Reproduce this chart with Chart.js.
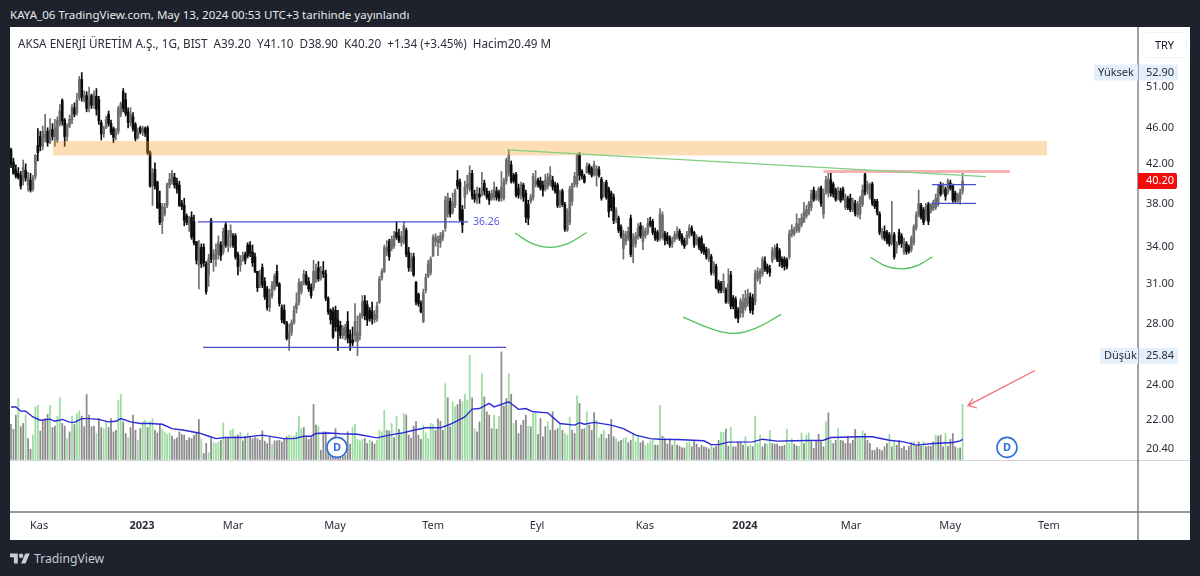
<!DOCTYPE html>
<html>
<head>
<meta charset="utf-8">
<script src="https://cdn.jsdelivr.net/npm/chart.js@4"></script>
<style>
  html, body { margin:0; padding:0; background:#1e222d; width:1200px; height:576px; overflow:hidden; font-family:"Noto Sans", sans-serif; }
  #panel { position:absolute; left:10px; top:27px; width:1180px; height:513px; background:#fff; }
  #head { position:absolute; left:10px; top:6px; color:#e8e8ea; font-size:11.55px; line-height:18px; white-space:nowrap; }
  #legend { position:absolute; left:18px; top:34px; color:#2a2e39; font-size:11.7px; line-height:18px; white-space:pre; }
  #cur { position:absolute; left:1142px; top:32px; width:43px; height:24px; border:1px solid #f0f3fa; border-radius:4px; color:#131722; font-size:11px; line-height:24px; text-align:center; }
  #logo { position:absolute; left:10px; top:551px; }
  #brand { position:absolute; left:34px; top:549px; color:#c9ccd6; font-size:12.2px; line-height:20px; }
</style>
</head>
<body>
<div id="head"></div>
<div id="panel"><canvas id="Chart" width="1180" height="513"></canvas></div>
<div id="legend"></div>
<div id="cur"></div>
<svg id="logo" width="20" height="16" viewBox="0 0 36 28"><path fill="#c9ccd6" d="M14 22H7V11H0V4h14v18zM28 22h-8l7.5-18h8L28 22z"/><circle fill="#c9ccd6" cx="20" cy="8" r="4"/></svg>
<div id="brand">TradingView</div>
<script>
var headText = "KAYA_06 TradingView.com, May 13, 2024 00:53 UTC+3 tarihinde yayınlandı";
var legendText = "AKSA ENERJİ ÜRETİM A.Ş., 1G, BIST  A39.20  Y41.10  D38.90  K40.20  +1.34 (+3.45%)  Hacim20.49 M";
var currency = "TRY";

var priceTicks = [51, 46, 42, 38, 34, 31, 28, 24, 22, 20.40];
var monthTicks = [11.5, 53.7, 91, 132.8, 173, 215.6, 259.8, 300.8, 344.3, 384.9, 425.4];
var monthLabels = ["Kas", "2023", "Mar", "May", "Tem", "Eyl", "Kas", "2024", "Mar", "May", "Tem"];
var highPrice = 52.90, lowPrice = 25.84, lastPrice = 40.20;

var opens = [
43.5,42.2,41.3,41.0,40.8,40.2,41.3,39.8,40.3,39.4,
40.7,44.0,45.0,43.9,44.9,45.6,44.4,45.8,45.0,44.6,
46.5,49.3,46.9,45.0,46.2,46.9,48.4,47.8,49.6,52.0,
49.4,49.9,48.4,49.9,48.7,49.8,49.4,46.6,45.3,46.0,
47.6,46.5,45.9,45.2,45.6,47.6,50.4,49.4,47.9,46.6,
47.3,46.4,44.9,46.0,45.5,45.9,46.0,43.2,39.7,41.4,
40.1,38.0,36.3,37.0,37.8,39.8,40.2,40.6,40.0,39.8,
38.0,37.8,36.8,36.0,36.7,36.3,34.5,32.5,34.0,34.0,
32.6,31.7,36.4,33.0,33.0,33.4,34.2,33.6,36.0,34.1,
35.0,35.0,35.0,33.4,32.5,33.0,33.4,34.2,34.2,33.6,
33.2,32.0,30.9,32.3,31.2,30.6,29.2,30.1,30.6,32.0,
31.0,29.2,29.0,28.1,27.0,27.4,28.1,29.1,29.6,30.4,
31.1,31.7,31.2,30.7,30.7,31.3,32.3,31.5,32.0,31.8,
29.9,29.0,28.9,29.0,28.3,27.9,27.2,27.2,28.2,27.3,
26.9,27.2,26.8,27.2,28.6,29.7,29.4,29.0,28.9,28.3,
28.4,29.6,31.5,32.0,33.6,34.5,33.9,34.1,35.3,35.0,
34.4,34.5,35.5,33.6,32.3,33.2,31.1,30.2,29.5,28.2,
30.5,31.6,31.9,33.3,34.5,34.4,34.4,34.9,35.7,37.0,
38.2,37.2,37.8,40.3,40.1,37.4,38.6,39.6,39.4,41.0,
38.9,38.3,38.9,38.9,40.0,39.2,38.9,38.5,38.6,39.2,
39.0,38.5,38.5,40.2,41.0,41.9,40.8,40.9,39.5,38.8,
39.8,39.0,37.9,38.2,38.6,39.9,40.3,40.2,39.8,39.4,
39.7,39.9,40.3,39.8,39.8,37.9,39.2,37.9,35.5,36.2,
38.2,39.9,39.9,43.0,41.2,40.7,41.1,41.8,41.5,40.9,
40.8,41.4,40.4,38.8,40.1,39.4,39.0,38.6,36.6,36.6,
35.8,33.9,34.5,34.8,36.6,34.1,34.3,34.9,35.9,34.5,
35.0,35.3,36.3,36.3,35.4,35.3,34.8,34.9,35.2,35.0,
34.8,34.3,34.7,34.9,35.4,35.0,34.6,34.3,35.0,35.7,
35.3,34.4,34.7,34.8,34.1,33.8,33.0,33.2,31.9,32.4,
31.1,31.0,30.5,30.5,29.7,31.7,29.9,29.8,29.0,28.8,
28.8,29.2,29.5,30.0,29.9,29.6,31.4,31.5,31.8,32.8,
32.4,32.2,32.9,33.2,34.0,33.7,33.0,33.0,32.9,33.2,
35.1,35.2,35.5,35.5,36.0,36.3,36.8,37.1,37.6,39.3,
38.5,38.4,39.5,37.0,39.1,39.0,40.3,39.9,39.3,38.7,
39.2,39.4,37.6,38.4,38.5,37.4,38.0,36.9,37.0,37.9,
40.9,39.3,38.6,39.9,38.2,38.2,37.0,34.9,35.4,35.3,
35.1,34.4,35.1,34.0,35.3,35.0,33.6,34.3,34.0,33.8,
34.4,35.7,36.9,37.8,37.4,36.7,37.9,37.3,37.5,37.6,
37.9,39.8,39.1,39.4,39.1,40.0,39.7,39.0,38.2,38.4,39.2];

var highs = [
43.7,42.6,41.9,41.6,41.2,42.4,42.0,41.1,41.0,40.8,
43.0,45.9,45.6,46.2,47.6,46.0,47.1,46.5,47.0,47.3,
48.8,49.5,47.1,46.5,47.5,48.8,49.0,50.2,52.4,52.9,
50.5,50.4,51.0,50.1,50.5,50.8,49.8,46.9,46.2,47.4,
48.0,46.9,46.1,45.9,48.6,49.1,50.8,50.2,48.4,48.4,
47.8,46.6,46.0,46.2,46.2,46.1,46.2,43.4,41.5,42.1,
40.2,39.2,38.0,38.0,40.0,41.0,41.3,41.0,40.5,40.2,
38.3,38.5,37.0,36.8,37.2,36.9,34.5,34.6,34.3,34.3,
32.8,33.4,36.6,33.8,34.3,35.0,34.5,35.7,36.2,35.5,
36.0,35.2,35.2,33.6,33.3,33.6,33.6,34.4,34.5,34.2,
33.5,32.0,32.1,32.6,31.5,30.8,30.6,31.2,31.8,32.5,
31.1,29.4,29.4,28.2,28.0,28.3,29.3,30.3,31.4,31.2,
32.1,32.0,31.5,31.0,32.9,32.6,32.8,32.4,32.8,32.1,
30.0,29.1,29.2,29.3,29.0,28.2,27.9,28.0,28.9,27.6,
27.8,29.5,28.6,28.8,30.1,30.1,29.7,29.2,29.6,29.0,
29.6,31.6,32.2,34.2,34.6,34.7,35.0,35.4,36.3,35.6,
35.4,36.3,35.7,34.0,33.5,33.5,31.2,30.3,29.7,30.6,
31.8,32.9,33.2,35.1,35.2,35.0,35.3,35.5,38.7,39.0,
38.5,39.0,39.4,41.3,40.4,37.8,40.2,40.8,41.8,41.3,
39.3,39.6,39.5,41.1,40.3,39.5,39.2,39.3,40.1,39.6,
39.3,41.2,40.5,42.6,43.5,42.3,41.0,41.1,39.9,40.1,
40.0,39.3,38.3,38.9,41.0,41.3,40.5,40.6,40.2,40.9,
41.0,41.7,40.7,40.1,40.0,39.3,39.4,38.1,37.5,39.7,
40.0,41.1,43.1,43.2,41.4,40.9,42.1,42.0,41.7,42.3,
41.8,41.7,40.6,40.1,40.3,39.6,39.2,38.9,37.6,36.8,
36.0,35.5,35.4,35.8,36.9,35.2,35.3,36.1,36.2,35.9,
35.7,36.6,36.7,36.5,35.7,35.5,37.5,37.2,35.4,35.3,
35.0,34.9,35.4,35.8,35.6,35.2,34.8,35.4,36.0,35.9,
35.4,35.1,34.9,35.0,34.3,34.0,33.9,33.4,32.8,32.6,
31.3,31.2,31.8,30.7,32.2,32.0,30.1,30.0,29.2,29.9,
30.2,30.5,30.6,30.3,30.2,32.1,32.3,32.2,33.2,33.2,
32.6,32.5,34.0,34.2,34.3,33.9,33.2,33.2,33.1,35.5,
36.0,35.8,37.0,36.6,37.0,38.1,37.8,38.2,39.3,39.6,
39.2,39.6,39.7,39.4,40.7,41.1,41.2,40.1,39.5,39.6,
39.5,39.6,38.9,38.7,38.9,38.5,38.3,38.2,38.7,39.8,
41.2,40.2,40.0,40.1,38.4,38.4,37.2,35.7,35.9,35.5,
35.3,38.2,35.3,34.5,35.6,35.2,34.8,34.5,34.2,35.0,
36.0,37.2,39.3,38.0,37.6,38.0,38.1,38.0,38.3,38.9,
39.8,40.1,40.0,39.6,40.4,40.3,39.9,39.2,39.0,39.4,41.1];

var lows = [
41.6,40.9,40.5,40.4,39.4,39.8,40.2,39.2,39.1,39.2,
40.4,42.3,43.4,43.5,44.4,43.9,44.2,44.6,43.9,44.3,
46.2,46.3,43.9,44.5,46.0,46.5,47.3,47.5,49.3,49.2,
49.1,47.9,47.9,48.3,48.3,47.5,46.4,44.6,44.9,45.9,
46.2,45.2,44.3,44.6,45.3,47.3,47.9,47.4,46.0,46.2,
45.6,44.5,44.7,45.3,45.1,45.0,43.0,39.6,37.8,39.4,
37.5,36.0,35.2,36.8,37.6,39.5,39.9,39.5,39.0,37.7,
37.4,35.9,36.0,35.4,34.7,34.2,32.6,30.6,32.3,32.4,
30.2,30.8,32.7,32.0,32.4,33.0,32.9,33.4,34.0,33.6,
34.0,34.0,33.0,31.7,32.0,32.8,32.6,33.1,33.2,32.4,
31.9,30.4,30.7,30.7,29.8,29.0,28.9,29.9,30.5,30.8,
29.3,28.1,28.0,26.9,26.2,27.2,28.0,28.8,29.4,30.2,
30.9,30.9,30.4,29.9,30.5,31.1,31.2,31.3,31.5,29.7,
28.7,28.0,27.0,27.5,26.2,27.0,27.0,26.9,26.7,26.2,
26.5,26.8,25.84,26.9,28.4,28.3,27.9,28.2,28.0,28.1,
28.2,29.5,31.3,31.9,33.3,32.9,33.7,33.9,34.7,34.4,
34.1,34.3,33.2,32.0,32.0,31.6,29.4,29.3,28.8,28.1,
30.3,31.5,31.7,33.2,34.1,33.3,34.0,34.6,35.4,36.7,
36.7,37.0,37.6,39.4,36.3,35.3,37.5,38.9,39.2,38.4,
38.1,38.0,38.0,38.7,38.8,38.4,37.9,38.3,38.3,38.3,
38.2,38.2,38.3,39.9,40.7,40.0,40.0,38.6,38.5,38.4,
38.2,36.2,36.0,38.0,38.3,39.6,39.6,39.3,38.7,39.2,
39.4,39.7,39.3,39.0,37.6,37.6,37.7,35.4,35.4,36.0,
37.8,39.6,39.6,40.3,40.4,40.0,41.0,40.9,40.6,40.7,
39.7,40.6,38.3,38.6,38.4,36.7,37.3,36.1,36.2,35.3,
34.8,33.0,34.2,34.6,33.2,32.7,34.0,34.7,34.8,33.8,
34.8,35.1,35.8,35.1,34.6,34.5,34.6,34.7,34.2,34.3,
34.0,34.0,34.5,34.7,34.6,34.2,33.9,34.2,34.8,35.0,
34.0,34.2,33.8,33.5,33.4,33.0,32.8,31.7,31.7,30.6,
30.3,30.3,30.3,29.5,29.5,29.1,29.1,28.4,28.1,28.5,
28.5,29.0,29.3,28.8,28.7,29.4,31.2,31.0,31.6,32.0,
31.8,31.6,32.7,33.0,32.8,32.4,32.3,32.1,32.2,33.0,
34.9,35.0,35.3,35.3,35.8,36.2,36.6,36.9,37.3,38.2,
38.3,38.2,37.7,36.6,38.9,38.6,38.7,38.6,38.2,38.3,
38.1,38.3,37.4,37.4,37.2,37.2,36.8,36.7,36.5,37.7,
38.8,38.9,38.4,37.8,37.5,36.9,35.1,34.7,34.6,34.3,
34.1,34.2,33.0,33.5,34.2,34.0,33.4,33.4,33.5,33.6,
34.2,35.5,36.7,36.5,36.0,36.4,36.0,37.1,37.3,37.4,
37.7,38.7,38.9,38.3,38.9,39.3,38.1,38.1,38.0,37.9,38.9];

var closes = [
41.9,41.0,40.7,40.6,39.7,41.6,40.5,40.6,39.3,40.6,
42.9,43.2,43.9,45.6,45.2,44.3,45.8,45.0,46.0,46.9,
48.0,46.8,45.0,46.2,47.0,48.4,47.6,49.3,52.0,49.7,
50.0,48.3,49.4,48.7,50.0,48.2,46.8,45.3,45.9,47.0,
46.5,45.5,44.9,45.5,48.3,48.9,48.3,47.7,46.6,47.6,
45.9,44.8,45.5,45.5,45.9,45.4,43.2,39.7,41.0,39.7,
37.6,36.2,37.7,37.6,39.9,40.4,41.0,39.8,39.4,37.8,
37.7,36.4,36.2,36.6,34.9,34.4,32.9,34.0,32.6,32.7,
30.4,33.0,33.0,33.4,33.8,34.4,33.3,35.4,34.2,35.0,
35.5,34.2,33.2,32.4,33.0,33.3,32.9,33.3,33.5,32.7,
32.0,30.7,31.7,30.9,30.0,29.2,30.2,30.9,31.6,31.0,
29.5,28.3,28.1,27.0,27.4,28.1,29.0,29.5,31.1,31.1,
31.8,31.0,30.6,30.1,32.0,32.1,31.4,32.0,31.8,29.9,
28.9,28.3,27.1,27.8,27.5,27.2,27.7,27.8,27.0,26.7,
26.7,28.2,27.4,28.6,29.6,28.6,28.3,28.4,28.4,28.7,
29.3,31.4,32.0,34.0,34.0,33.2,34.7,35.0,34.9,34.6,
34.9,35.9,33.4,32.3,33.0,31.7,29.6,29.5,28.9,30.3,
31.5,32.6,33.0,34.9,34.9,34.7,35.0,35.3,38.3,38.6,
37.0,38.0,39.2,39.7,36.5,36.0,39.6,39.9,41.0,38.7,
38.4,39.0,38.6,39.5,39.2,38.6,38.3,39.0,39.4,38.6,
38.5,39.6,40.2,42.4,42.9,40.2,40.2,38.8,38.8,39.9,
38.6,36.7,36.6,38.6,40.7,40.2,39.8,39.5,39.3,40.3,
40.6,40.8,39.6,39.2,37.8,39.0,37.9,35.6,37.3,39.4,
39.9,40.7,42.9,40.8,40.7,40.1,41.7,41.1,40.8,41.9,
41.5,40.8,38.5,39.9,38.6,37.2,37.6,36.4,37.3,35.5,
35.0,35.2,35.0,35.4,33.4,34.8,35.0,35.7,35.0,35.6,
35.4,36.1,36.0,35.3,34.8,34.7,37.0,36.9,34.6,34.6,
34.2,34.6,35.1,35.2,34.8,34.4,34.1,35.1,35.7,35.2,
34.2,34.9,34.0,33.7,33.6,33.2,33.7,31.9,32.6,30.7,
30.5,30.5,31.2,29.6,31.0,29.3,29.3,28.5,28.4,29.7,
29.6,29.9,30.2,29.0,29.0,31.8,32.0,32.0,33.0,32.2,
32.0,31.9,33.7,33.9,33.0,32.8,32.5,32.4,32.4,35.2,
35.6,35.5,36.1,36.0,36.6,37.2,37.4,38.0,38.9,38.4,
38.9,39.4,38.0,39.0,40.3,40.4,39.0,38.9,38.4,39.2,
38.3,38.6,38.6,37.6,37.4,38.2,37.0,37.9,38.5,39.3,
39.1,39.9,39.8,38.0,37.7,37.1,35.3,35.4,34.8,34.5,
34.3,35.0,33.2,34.3,34.4,34.3,34.5,33.6,33.7,34.8,
35.8,36.9,38.0,36.7,36.2,37.7,36.3,37.8,38.1,38.5,
39.4,38.9,39.8,38.7,40.2,39.5,38.3,38.3,38.8,39.1,40.2];

// volume in millions
var volumes = [
13,11.1,16.4,22.5,12.1,13.3,16.4,7.7,3.8,9,
19.4,20,10.5,14.5,15.1,16.7,20,11.8,12.3,16,
22.8,13.3,12.3,7.7,10.2,16,12.9,17,18,16,
12.1,24,16.4,12.1,12.3,9.6,15.1,11.8,11.4,14.1,
11.8,15.1,10.2,10.8,21.9,24,13.9,9.6,8.1,11.8,
16.4,10.8,7.1,11.4,13.9,14.5,11.8,13.9,15.1,10.8,
9.8,13,11.1,10.2,9.3,9.8,8.6,7.4,8,10.2,
9.2,9,7.1,8,7.7,9,9.8,14.8,7.7,2.2,
5.9,2.5,7.7,6.2,5.9,6.5,7.1,13.5,7.7,8.1,
10.8,11.2,8.6,9,10,6.9,8.4,9.8,8.1,7.7,
8.1,7.7,7.1,10.6,6.8,5.9,8.1,5.7,6.9,6.9,
7.1,6.5,7.7,8.4,9,8.6,8.6,10,16,11.4,
11.8,8.1,7.4,8.1,20.3,12.7,12.1,3.4,10.2,10.2,
3.4,5.9,2.2,11.4,3.4,2.2,1,1.6,10.2,5.7,
11.8,13,7.4,6.9,7.4,7.7,5.9,7.1,6.5,5.7,
7.1,10.8,10.2,18.2,10.8,10.5,13.3,8.1,16,11.1,
9.8,17,16.4,9,7.9,12.3,14.1,9,7.4,12.7,
9.8,7.7,13.3,13,10.8,15,14.1,10.8,28,22.8,
12.1,21.3,19.4,20.3,22.1,21.3,24,21.9,38.5,22.8,
11.4,10.2,13.9,31.7,23.1,17.6,16.4,11.4,16.4,11.2,
16,39.7,19.7,22.5,31.7,24.1,13.3,14.5,9.6,12.7,
14.5,16.4,12.3,12.1,17,17,9.3,15.1,8.4,12.1,
13.9,10.8,17.6,10.8,11.4,13.3,10.8,9.6,9,15.5,
10.8,9.6,23.5,20.7,11.1,11.4,17.6,12.7,10.8,17.3,
14.5,8.1,9.3,10.8,7.7,9.3,14.8,8.4,7.7,6.5,
7.1,7.7,8.1,6.2,7.1,9.3,6.5,8.6,6.2,6.9,
5.3,5.9,6.9,7.4,5.3,5.3,20,8.6,7.7,5.7,
7.7,5.3,7.1,5.3,4.9,4.3,4.3,6.2,6.5,4.7,
7.1,5.7,4.4,5.3,4.7,4.4,3.9,5.3,4.3,4.9,
7.1,10.1,10.1,11.2,4.9,11.8,4.7,4.7,6.5,6.5,
5.3,8.4,4.7,5.3,4.7,16,5.9,9,4.7,5.9,
5.7,10.8,5.9,5.7,5.7,4.9,4.9,5.3,11.2,5.9,
7.7,5.7,5,4.9,9.8,5.9,9,9.8,6.5,4.1,
7.1,9.3,7.1,4.7,13.9,17.2,7.1,5.9,7.1,11.4,
7.1,6.9,5.9,8.6,5.9,7.1,11.1,8.1,7.7,10.6,
9.6,7.1,5.9,3.4,3.4,4.4,3.7,3.2,4.7,5.9,
9.3,4.7,7.1,5.3,7.1,4.1,4.9,3.4,4.9,6.2,
6.5,4.9,6.5,4.9,6.6,4.7,4.9,4.9,6.5,9,
8.6,9,4.7,9.6,4.9,7.4,9.6,4.7,4.1,4.3,20.49];

// bars whose volume column is green, the rest are grey
var greenVolumeBars = [3,6,9,10,11,16,19,20,23,25,27,28,35,38,39,44,45,48,52,54,55,57,58,62,63,64,65,78,81,83,84,85,87,90,91,94,97,107,114,115,116,117,118,119,126,
140,141,142,143,144,147,150,151,152,153,156,158,160,161,169,170,171,172,173,178,181,182,185,186,187,188,190,193,198,200,204,206,212,214,215,220,225,227,228,229,232,236,240,241,243,248,251,252,255,256,257,260,261,262,263,266,
272,277,278,287,291,292,295,301,303,305,306,307,310,311,318,319,320,323,324,326,327,334,336,339,347,348,349,360,362,370,374,379,383,388,390];

// volume average, read at these bars
var volAvgBars = [0,2,4,6,9,12,16,18,21,24,26,29,32,36,40,43,45,49,53,57,62,66,71,77,82,84,88,95,103,112,116,120,123,125,130,135,142,150,155,161,165,170,176,180,186,189,192,196,198,204,208,211,214,220,225,231,233,235,239,246,251,256,262,266,273,284,287,290,294,304,308,314,321,333,336,348,353,360,366,371,378,386,389,390];
var volAvgValues = [19.4,19.4,17.9,17.8,15.7,14.5,14.9,14.1,14.8,13.8,13.7,15.1,15.1,14.8,13.9,14.1,15.1,13.9,13.3,13.3,13,11.4,10.8,9.8,8.3,7.7,8.1,8.1,9,7.7,7.7,8.6,8.6,9.6,9.8,9.5,9.3,8,9,9.9,10.8,11.7,11.7,13,15.7,18.6,18.8,20.7,19.4,21.3,18.5,18.8,17.6,17.2,13.3,12.7,13.6,13,13.7,12.7,11.4,9,7.7,7.5,7.4,6.9,5.5,5.5,6.4,6.5,7.5,6.8,6.9,7.1,8.1,8.4,8.4,7.1,6.5,5.3,5.9,6.3,6.9,7.4];

// drawings, in bar number and price
var zoneBars = [17.2, 424.6], zoneTop = 44.5, zoneBottom = 42.9;
var resistBars = [76.6, 187.3], resistPrice = 36.26;
var supportBars = [78.7, 202.9], supportPrice = 26.4;
var boxBars = [377.5, 395.5], boxTop = 39.85, boxBottom = 38;
var pinkBars = [333, 409.4], pinkPrice = 41.2;
var trendBars = [203.3, 399.5], trendPrices = [43.5, 40.65];
var curve1Bars = [206.6, 213.4, 220.9, 228.4, 235.9], curve1Prices = [35.25, 34.35, 34.0, 34.35, 35.3];
var curve2Bars = [275.5, 285.7, 295.9, 305.7, 315.6], curve2Prices = [28.5, 27.75, 27.35, 27.75, 28.7];
var curve3Bars = [352.3, 358.9, 365.7, 371.9, 377.6], curve3Prices = [33.15, 32.4, 32.2, 32.5, 33.2];
var arrowBars = [419.7, 392.3, 394.2, 392.3, 395.9], arrowPrices = [24.9, 22.8, 23.2, 22.8, 22.65];
var dividendBars = [133.6, 408.2], dividendPrice = 20.5;

document.getElementById("head").textContent = headText;
document.getElementById("legend").textContent = legendText;
document.getElementById("cur").textContent = currency;

function pairs(xs, ys) {
  return xs.map((x, i) => ({ x: x, y: ys[i] }));
}
function flat(xs, y) {
  return xs.map(x => ({ x: x, y: y }));
}
function lineSet(points, color, width, order, extra) {
  return Object.assign({ type: "line", data: points, borderColor: color, borderWidth: width, pointRadius: 0, order: order, yAxisID: "y" }, extra || {});
}

var upColor = "#6e6e6e", downColor = "#0c0c0c";
var candleColors = closes.map((c, i) => c >= opens[i] ? upColor : downColor);
var volumeColors = volumes.map((v, i) => greenVolumeBars.indexOf(i) >= 0 ? "#9bdc9f" : "#8b8b8b");

var blue = "#4c4cd6";

var drawTexts = {
  id: "drawTexts",
  afterDraw(chart) {
    var ctx = chart.ctx, y = chart.scales.y, x = chart.scales.x, v = chart.scales.v;
    var right = chart.chartArea.right, bottom = chart.chartArea.bottom, w = chart.width, h = chart.height;
    ctx.save();
    // volume pane baseline
    ctx.strokeStyle = "#d1d4dc";
    ctx.lineWidth = 1;
    ctx.beginPath();
    ctx.moveTo(0, Math.round(v.getPixelForValue(0)) + 0.5);
    ctx.lineTo(w, Math.round(v.getPixelForValue(0)) + 0.5);
    ctx.stroke();

    // frame lines run the full panel
    ctx.strokeStyle = "#777b85";
    ctx.lineWidth = 1.4;
    ctx.beginPath();
    ctx.moveTo(0, bottom);
    ctx.lineTo(w, bottom);
    ctx.moveTo(right, 0);
    ctx.lineTo(right, h);
    ctx.stroke();

    ctx.font = '11px "Noto Sans"';
    ctx.textBaseline = "middle";

    // high / low tags
    [["Yüksek", highPrice, 44], ["Düşük", lowPrice, 38]].forEach(t => {
      var py = y.getPixelForValue(t[1]);
      ctx.fillStyle = "#e3effa";
      ctx.fillRect(right - t[2], py - 8, t[2], 16);
      ctx.fillRect(right + 1, py - 8, 39, 16);
      ctx.fillStyle = "#2a2e39";
      ctx.textAlign = "left";
      ctx.fillText(t[0], right - t[2] + 4, py);
      ctx.fillText(t[1].toFixed(2), right + 8, py);
    });

    // last price tag
    var ly = y.getPixelForValue(lastPrice);
    ctx.fillStyle = "#f20c0c";
    ctx.beginPath();
    ctx.roundRect(right, ly - 8, 39, 16, [0, 2, 2, 0]);
    ctx.fill();
    ctx.fillStyle = "#fff";
    ctx.fillText(lastPrice.toFixed(2), right + 8, ly);

    // horizontal line label
    ctx.fillStyle = "#5a5ae0";
    ctx.font = '10.5px "Noto Sans"';
    ctx.fillText(resistPrice.toFixed(2), x.getPixelForValue(resistBars[1]) + 5, y.getPixelForValue(resistPrice));

    // dividend markers
    ctx.fillStyle = "#2f6fd8";
    ctx.font = 'bold 11px "Noto Sans"';
    ctx.textAlign = "center";
    dividendBars.forEach(b => {
      ctx.fillText("D", x.getPixelForValue(b), y.getPixelForValue(dividendPrice));
    });
    ctx.restore();
  }
};

var chart = new Chart(document.getElementById("Chart"), {
  type: "bar",
  data: {
    datasets: [
      { data: volumes.map((v, i) => ({ x: i, y: v })), yAxisID: "v", backgroundColor: volumeColors, barThickness: 1.1, grouped: false, order: 20 },
      lineSet(pairs(volAvgBars, volAvgValues), "#2a2ad8", 1.4, 19, { yAxisID: "v" }),
      { data: highs.map((h, i) => ({ x: i, y: [lows[i], h] })), yAxisID: "y", backgroundColor: candleColors, barThickness: 1, grouped: false, order: 18 },
      { data: opens.map((o, i) => ({ x: i, y: [o, closes[i]] })), yAxisID: "y", backgroundColor: candleColors, barThickness: 2, grouped: false, order: 17 },
      lineSet(flat(zoneBars, zoneTop), "rgba(0,0,0,0)", 0, 16, { fill: { target: { value: zoneBottom } }, backgroundColor: "rgba(250,152,30,0.33)" }),
      lineSet(flat(pinkBars, pinkPrice), "#f5b3b3", 3, 15),
      lineSet(pairs(trendBars, trendPrices), "#7fd083", 1.2, 14),
      lineSet(flat(resistBars, resistPrice), blue, 1.2, 13),
      lineSet(flat(supportBars, supportPrice), blue, 1.2, 13),
      lineSet(flat(boxBars, boxTop), blue, 1.2, 13),
      lineSet(flat(boxBars, boxBottom), blue, 1.2, 13),
      lineSet(pairs(curve1Bars, curve1Prices), "#4fc35a", 1.3, 12, { tension: 0.4 }),
      lineSet(pairs(curve2Bars, curve2Prices), "#4fc35a", 1.3, 12, { tension: 0.4 }),
      lineSet(pairs(curve3Bars, curve3Prices), "#4fc35a", 1.3, 12, { tension: 0.4 }),
      lineSet(pairs(arrowBars, arrowPrices), "#f0686c", 1.2, 11),
      lineSet(flat(dividendBars, dividendPrice), "#2f6fd8", 0, 10, { showLine: false, pointRadius: 10, pointBorderWidth: 1.6, pointBorderColor: "#2f6fd8", pointBackgroundColor: "#ffffff" })
    ]
  },
  plugins: [drawTexts],
  options: {
    responsive: false,
    animation: false,
    devicePixelRatio: 1,
    layout: { padding: 0, autoPadding: false },
    plugins: { legend: { display: false }, tooltip: { enabled: false } },
    datasets: { bar: { borderWidth: 0 } },
    scales: {
      x: {
        type: "linear",
        offset: false,
        min: -0.41,
        max: 461.9,
        grid: { display: false, offset: false, drawTicks: false },
        border: { display: false },
        afterBuildTicks: (scale) => { scale.ticks = monthTicks.map(v => ({ value: v })); },
        afterFit: (scale) => { scale.height = 28; scale.paddingLeft = 0; scale.paddingRight = 0; },
        ticks: {
          autoSkip: false,
          maxRotation: 0,
          padding: 7,
          color: "#2a2e39",
          font: (c) => ({ family: "Noto Sans", size: 11, weight: /^\d+$/.test(monthLabels[c.index] || "") ? "bold" : "normal" }),
          callback: (v, i) => monthLabels[i]
        }
      },
      y: {
        type: "logarithmic",
        position: "right",
        min: 17.41,
        max: 59.36,
        grid: { display: false, drawTicks: false },
        border: { display: false },
        afterBuildTicks: (scale) => { scale.ticks = priceTicks.map(v => ({ value: v })); },
        afterFit: (scale) => { scale.width = 52; scale.paddingTop = 0; scale.paddingBottom = 0; },
        ticks: {
          padding: 8,
          color: "#2a2e39",
          autoSkip: false,
          font: { family: "Noto Sans", size: 11 },
          callback: (v) => Number(v).toFixed(2)
        }
      },
      v: {
        type: "linear",
        display: false,
        min: -19.37,
        max: 159.6
      }
    }
  }
});
</script>
</body>
</html>
